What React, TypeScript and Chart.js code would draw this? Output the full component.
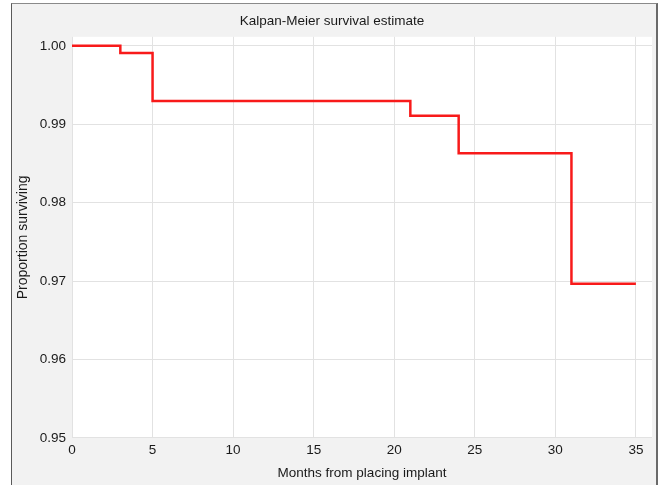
import React, { useEffect, useRef } from "react";
import { Chart, registerables } from "chart.js";

Chart.register(...registerables);

const months = [0, 3, 5, 21, 24, 31, 35];
const survival = [1.0, 0.9991, 0.99295, 0.9911, 0.9863, 0.96965, 0.96965];
const chartTitle = "Kalpan-Meier survival estimate";
const xTitle = "Months from placing implant";
const yTitle = "Proportion surviving";

const FONT = "'Liberation Sans', Arial, sans-serif";

const plotBg = {
  id: "plotBg",
  beforeDraw(chart: any) {
    const { ctx, chartArea } = chart;
    ctx.save();
    ctx.fillStyle = "#ffffff";
    ctx.fillRect(chartArea.left, chartArea.top, chartArea.right - chartArea.left, chartArea.bottom - chartArea.top);
    ctx.restore();
  },
};

export default function App() {
  const ref = useRef<HTMLCanvasElement>(null);
  useEffect(() => {
    if (!ref.current) return;
    const chart = new Chart(ref.current, {
      type: "line",
      data: {
        datasets: [
          {
            data: months.map((m, i) => ({ x: m, y: survival[i] })),
            borderColor: "#f81a1a",
            borderWidth: 2.5,
            pointRadius: 0,
            stepped: true,
            fill: false,
          },
        ],
      },
      options: {
        animation: false,
        responsive: false,
        maintainAspectRatio: false,
        layout: { padding: { left: 0, right: 4, top: 0, bottom: 0 } },
        plugins: {
          legend: { display: false },
          tooltip: { enabled: false },
          title: {
            display: true,
            text: chartTitle,
            color: "#1a1a1a",
            font: { family: FONT, size: 13.5, weight: "normal" },
            padding: { top: 9, bottom: 7.6 },
          },
        },
        scales: {
          x: {
            type: "linear",
            min: 0,
            max: 36,
            afterFit(scale: any) {
              scale.height = 47;
            },
            ticks: {
              stepSize: 5,
              includeBounds: false,
              color: "#1a1a1a",
              padding: 4,
              maxRotation: 0,
              font: { family: FONT, size: 13.5 },
            },
            grid: { color: "#e2e2e2", drawTicks: false },
            border: { display: false },
            title: {
              display: true,
              text: xTitle,
              color: "#1a1a1a",
              font: { family: FONT, size: 13.5 },
              padding: { top: 4, bottom: 4 },
            },
          },
          y: {
            type: "linear",
            min: 0.95,
            max: 1.00115,
            afterFit(scale: any) {
              scale.width = 60;
            },
            ticks: {
              stepSize: 0.01,
              includeBounds: false,
              color: "#1a1a1a",
              padding: 6,
              font: { family: FONT, size: 13.5 },
              callback: (v: any) => Number(v).toFixed(2),
            },
            grid: { color: "#e2e2e2", drawTicks: false },
            border: { display: false },
            title: {
              display: true,
              text: yTitle,
              color: "#1a1a1a",
              font: { family: FONT, size: 14 },
              padding: { top: 3, bottom: 0 },
            },
          },
        },
      },
      plugins: [plotBg],
    });
    return () => chart.destroy();
  }, []);

  return (
    <div style={{ position: "fixed", left: 0, top: 0, width: 660, height: 485, background: "#ffffff" }}>
      <div
        style={{
          position: "absolute",
          left: 11,
          top: 3,
          width: 644,
          height: 482,
          borderLeft: "1px solid #5a5a5a",
          borderTop: "1px solid #8a8a8a",
          borderRight: "2px solid #6a6a6a",
          background: "#f2f2f2",
        }}
      >
        <canvas ref={ref} width={644} height={481} style={{ display: "block" }} />
      </div>
    </div>
  );
}
